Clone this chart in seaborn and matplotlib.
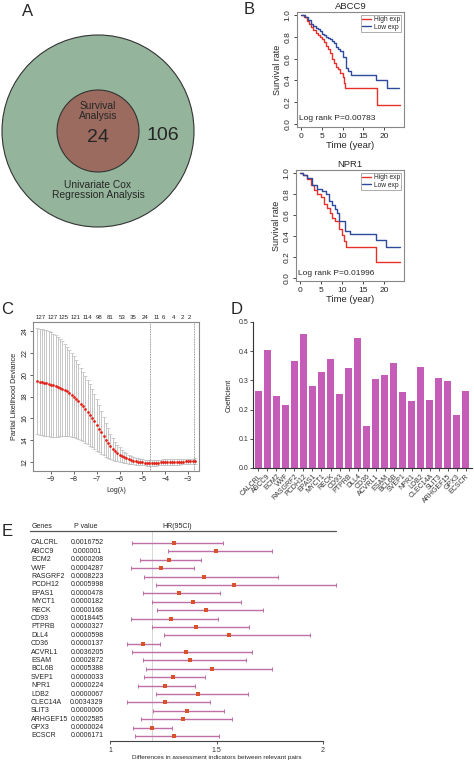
import numpy as np
import pandas as pd
import matplotlib
matplotlib.use('Agg')
import matplotlib.pyplot as plt
import matplotlib.transforms as mtransforms
from matplotlib.patches import Circle
from matplotlib.lines import Line2D
import seaborn as sns

sns.set_style('white')
plt.rcParams['font.family'] = ['Liberation Sans', 'DejaVu Sans']

# ---------------- data ----------------
# A: Venn counts
venn_inner = 24
venn_outer = 106
venn_inner_label = 'Survival\nAnalysis'
venn_outer_label = 'Univariate Cox\nRegression Analysis'

# B: Kaplan-Meier curves (time in years, survival rate)
abcc9_hi_t = [0, 0.8, 1.5, 2.0, 2.5, 3.0, 3.5, 4.0, 4.5, 5.0, 5.5, 6.0, 6.5, 7.0, 7.5, 8.0,
              8.5, 9.0, 9.5, 10.0, 10.3, 10.7, 18.2, 23.8]
abcc9_hi_s = [1.0, 0.98, 0.95, 0.92, 0.89, 0.86, 0.84, 0.82, 0.80, 0.78, 0.75, 0.72, 0.69, 0.65,
              0.60, 0.56, 0.52, 0.50, 0.47, 0.43, 0.38, 0.33, 0.17, 0.17]
abcc9_lo_t = [0, 1.0, 1.7, 2.5, 3.0, 3.5, 4.0, 4.5, 5.0, 5.5, 6.0, 6.5, 7.0, 7.5, 8.0, 8.5, 9.0,
              9.5, 10.0, 10.8, 11.3, 12.0, 18.1, 20.6, 23.6]
abcc9_lo_s = [1.0, 0.98, 0.955, 0.92, 0.90, 0.885, 0.87, 0.855, 0.83, 0.815, 0.80, 0.79, 0.78,
              0.765, 0.745, 0.71, 0.69, 0.67, 0.615, 0.515, 0.485, 0.445, 0.40, 0.325, 0.325]
npr1_hi_t = [0, 0.8, 1.7, 2.5, 3.3, 4.1, 4.9, 5.7, 6.5, 7.2, 7.6, 8.3, 9.4, 10.0, 10.4, 11.0,
             18.1, 23.8]
npr1_hi_s = [1.0, 0.98, 0.946, 0.887, 0.842, 0.798, 0.768, 0.708, 0.664, 0.619, 0.574, 0.545,
             0.47, 0.411, 0.351, 0.292, 0.149, 0.149]
npr1_lo_t = [0, 0.8, 1.7, 2.9, 4.1, 5.3, 6.1, 6.9, 7.6, 8.3, 8.8, 9.4, 10.8, 12.0, 18.1, 20.6,
             23.8]
npr1_lo_s = [1.0, 0.98, 0.955, 0.887, 0.848, 0.827, 0.798, 0.738, 0.693, 0.655, 0.619, 0.545,
             0.45, 0.42, 0.36, 0.29, 0.29]
abcc9_p = 'Log rank P=0.00783'
npr1_p = 'Log rank P=0.01996'

# C: LASSO cross-validation curve
log_lambda = [-9.6, -9.5, -9.4, -9.3, -9.2, -9.1, -9.0, -8.9, -8.8, -8.7, -8.6, -8.5, -8.4, -8.3,
              -8.2, -8.1, -8.0, -7.9, -7.8, -7.7, -7.6, -7.5, -7.4, -7.3, -7.2, -7.1, -7.0, -6.9,
              -6.8, -6.7, -6.6, -6.5, -6.4, -6.3, -6.2, -6.1, -6.0, -5.9, -5.8, -5.7, -5.6, -5.5,
              -5.4, -5.3, -5.2, -5.1, -5.0, -4.9, -4.8, -4.7, -4.6, -4.5, -4.4, -4.3, -4.2, -4.1,
              -4.0, -3.9, -3.8, -3.7, -3.6, -3.5, -3.4, -3.3, -3.2, -3.1, -3.0, -2.9, -2.8, -2.7]
cv_mean = [19.40, 19.35, 19.31, 19.26, 19.21, 19.15, 19.09, 19.03, 18.96, 18.89, 18.80, 18.70,
           18.59, 18.46, 18.32, 18.16, 17.98, 17.78, 17.57, 17.34, 17.10, 16.85, 16.58, 16.31,
           16.03, 15.73, 15.41, 15.07, 14.72, 14.37, 14.02, 13.72, 13.44, 13.20, 13.00, 12.83,
           12.69, 12.56, 12.45, 12.36, 12.28, 12.21, 12.15, 12.10, 12.06, 12.02, 11.99, 11.97,
           11.95, 11.94, 11.94, 11.95, 11.96, 11.97, 11.98, 11.99, 12.00, 12.01, 12.02, 12.03,
           12.04, 12.05, 12.05, 12.06, 12.06, 12.07, 12.07, 12.08, 12.08, 12.09]
cv_se = [4.85, 4.85, 4.84, 4.83, 4.82, 4.80, 4.78, 4.72, 4.64, 4.55, 4.45, 4.34, 4.22, 4.09,
         3.96, 3.82, 3.68, 3.55, 3.42, 3.30, 3.18, 3.06, 2.94, 2.82, 2.68, 2.52, 2.34, 2.14,
         1.94, 1.74, 1.55, 1.36, 1.18, 1.02, 0.88, 0.76, 0.66, 0.58, 0.51, 0.45, 0.40, 0.36,
         0.33, 0.31, 0.29, 0.28, 0.27, 0.26, 0.26, 0.26, 0.26, 0.26, 0.26, 0.26, 0.26, 0.26,
         0.26, 0.26, 0.26, 0.26, 0.26, 0.26, 0.26, 0.26, 0.26, 0.26, 0.26, 0.26, 0.26, 0.26]
nz_pos = [-9.44, -8.93, -8.43, -7.92, -7.41, -6.90, -6.40, -5.89, -5.39, -4.88, -4.39, -4.09,
          -3.65, -3.25, -2.95]
nz_labels = ['127', '127', '125', '121', '114', '98', '81', '53', '35', '24', '11', '6', '4',
             '2', '2']
lambda_min = -4.65
lambda_1se = -2.75

# D / E: genes
genes = ['CALCRL', 'ABCC9', 'ECM2', 'VWF', 'RASGRF2', 'PCDH12', 'EPAS1', 'MYCT1', 'RECK',
         'CD93', 'PTPRB', 'DLL4', 'CD36', 'ACVRL1', 'ESAM', 'BCL6B', 'SVEP1', 'NPR1', 'LDB2',
         'CLEC14A', 'SLIT3', 'ARHGEF15', 'GPX3', 'ECSCR']
coef = [0.262, 0.403, 0.245, 0.215, 0.367, 0.46, 0.281, 0.329, 0.373, 0.253, 0.341, 0.445,
        0.145, 0.306, 0.32, 0.361, 0.26, 0.231, 0.347, 0.232, 0.309, 0.297, 0.182, 0.264]
pvals = ['0.0016752', '0.000001', '0.0000208', '0.0004287', '0.0008223', '0.0005998',
         '0.0000478', '0.0000182', '0.0000168', '0.0018445', '0.0000327', '0.0000598',
         '0.0000137', '0.0036205', '0.0002872', '0.0005388', '0.0000033', '0.0000224',
         '0.0000067', '0.0034329', '0.0000006', '0.0002585', '0.0000024', '0.0006171']
hr = [1.299, 1.496, 1.277, 1.239, 1.443, 1.584, 1.324, 1.388, 1.452, 1.286, 1.404, 1.559,
      1.155, 1.355, 1.376, 1.477, 1.294, 1.258, 1.415, 1.260, 1.360, 1.341, 1.199, 1.299]
hr_lo = [1.105, 1.274, 1.141, 1.099, 1.161, 1.216, 1.153, 1.196, 1.222, 1.097, 1.196, 1.255,
         1.080, 1.105, 1.156, 1.167, 1.160, 1.130, 1.216, 1.080, 1.203, 1.147, 1.109, 1.116]
hr_hi = [1.532, 1.759, 1.429, 1.396, 1.787, 2.059, 1.518, 1.615, 1.720, 1.508, 1.651, 1.939,
         1.233, 1.668, 1.637, 1.759, 1.444, 1.401, 1.646, 1.469, 1.535, 1.574, 1.292, 1.513]
hr_ref = 1.197

# ---------------- figure ----------------
W, H = 474, 761
fig = plt.figure(figsize=(W / 100, H / 100), dpi=100)


def px_box(l, t, r, b):
    return [l / W, 1 - b / H, (r - l) / W, (b - t) / H]


def panel_letter(x, y, s):
    fig.text(x / W, 1 - y / H, s, fontsize=12, ha='center', va='center')


panel_letter(28, 12, 'A')
panel_letter(249, 10, 'B')
panel_letter(7, 310, 'C')
panel_letter(237, 310, 'D')
panel_letter(7, 531, 'E')

# ---- A: Venn ----
axA = fig.add_axes(px_box(0, 30, 200, 235))
axA.set_xlim(0, 200)
axA.set_ylim(235, 30)
axA.axis('off')
axA.add_patch(Circle((98, 131), 96, fc='#94B59B', ec='#333333', lw=0.8))
axA.add_patch(Circle((98, 131), 41, fc='#9B6B60', ec='#333333', lw=0.8))
axA.text(98, 111, venn_inner_label, ha='center', va='center', fontsize=7.4, linespacing=1.05)
axA.text(98, 137, str(venn_inner), ha='center', va='center', fontsize=14)
axA.text(163, 136, str(venn_outer), ha='center', va='center', fontsize=14)
axA.text(98, 190, venn_outer_label, ha='center', va='center', fontsize=7.4, linespacing=1.05)


# ---- B: survival ----
def km_panel(rect, title, hi_t, hi_s, lo_t, lo_s, ptxt):
    ax = fig.add_axes(rect)
    sns.lineplot(x=hi_t, y=hi_s, drawstyle='steps-post', color='#E8302A', lw=1.0, ax=ax,
                 label='High exp', estimator=None, sort=False)
    sns.lineplot(x=lo_t, y=lo_s, drawstyle='steps-post', color='#2E4B9B', lw=1.0, ax=ax,
                 label='Low exp', estimator=None, sort=False)
    ax.set_xlim(-0.96, 24.8)
    ax.set_ylim(-0.03, 1.03)
    ax.set_xticks([0, 5, 10, 15, 20])
    ax.set_yticks([0, 0.2, 0.4, 0.6, 0.8, 1.0])
    ax.set_yticklabels(['0.0', '0.2', '0.4', '0.6', '0.8', '1.0'], rotation=90, va='center')
    ax.tick_params(direction='out', length=2.5, width=0.6, labelsize=6, pad=1.5,
                   left=True, bottom=True)
    for sp in ax.spines.values():
        sp.set_color('#888888')
        sp.set_linewidth(0.8)
    ax.set_title(title, fontsize=6.8, pad=2)
    ax.set_xlabel('Time (year)', fontsize=6.8, labelpad=1)
    ax.set_ylabel('Survival rate', fontsize=6.5, labelpad=2)
    ax.text(0.02, 0.07, ptxt, transform=ax.transAxes, fontsize=6, ha='left', va='center')
    leg = ax.legend(loc='upper right', fontsize=4.8, frameon=True, fancybox=False,
                    handlelength=1.3, handletextpad=0.4, borderpad=0.2, labelspacing=0.1,
                    borderaxespad=0.4)
    leg.get_frame().set_edgecolor('#888888')
    leg.get_frame().set_linewidth(0.6)
    return ax


km_panel(px_box(297, 12, 404, 127), 'ABCC9', abcc9_hi_t, abcc9_hi_s, abcc9_lo_t, abcc9_lo_s,
         abcc9_p)
km_panel(px_box(296, 170, 404, 281), 'NPR1', npr1_hi_t, npr1_hi_s, npr1_lo_t, npr1_lo_s,
         npr1_p)

# ---- C: LASSO CV ----
axC = fig.add_axes(px_box(33, 322, 199, 471))
cv_mean_a = np.array(cv_mean)
cv_se_a = np.array(cv_se)
axC.errorbar(log_lambda, cv_mean_a, yerr=cv_se_a, fmt='none', ecolor='#BDBDBD', elinewidth=0.6,
             capsize=1.2, capthick=0.5)
sns.scatterplot(x=log_lambda, y=cv_mean, color='#E2231A', s=4, linewidth=0, ax=axC, zorder=3)
axC.axvline(lambda_min, color='#777777', lw=0.6, ls=(0, (1, 1)))
axC.axvline(lambda_1se, color='#777777', lw=0.6, ls=(0, (1, 1)))
axC.set_xlim(-9.79, -2.52)
axC.set_ylim(11.2, 24.8)
axC.set_xticks([-9, -8, -7, -6, -5, -4, -3])
axC.set_yticks([12, 14, 16, 18, 20, 22, 24])
axC.set_yticklabels(['12', '14', '16', '18', '20', '22', '24'], rotation=90, va='center')
axC.tick_params(direction='out', length=2, width=0.5, labelsize=5, pad=1.5, left=True,
                bottom=True)
for sp in axC.spines.values():
    sp.set_color('#888888')
    sp.set_linewidth(0.8)
axC.set_xlabel('Log(λ)', fontsize=5, labelpad=3)
axC.set_ylabel('Partial Likelihood Deviance', fontsize=5.2, labelpad=2)
trC = mtransforms.blended_transform_factory(axC.transData, axC.transAxes)
for xp, lab in zip(nz_pos, nz_labels):
    axC.text(xp, 1.012, lab, transform=trC, ha='center', va='bottom', fontsize=4.4)

# ---- D: coefficients ----
axD = fig.add_axes(px_box(253, 322, 472, 468))
dfD = pd.DataFrame({'gene': genes, 'coef': coef})
sns.barplot(data=dfD, x='gene', y='coef', color='#C55CB8', saturation=1, width=0.75,
            edgecolor='none', ax=axD)
axD.set_xlim(-0.6, 23.7)
axD.set_ylim(0, 0.5)
axD.set_yticks([0, 0.1, 0.2, 0.3, 0.4, 0.5])
axD.set_yticklabels(['0.0', '0.1', '0.2', '0.3', '0.4', '0.5'])
axD.set_xticks(range(len(genes)))
axD.set_xticklabels(genes, rotation=45, ha='right', rotation_mode='anchor')
axD.tick_params(direction='out', length=2, width=0.6, labelsize=5, pad=1.5, left=True,
                bottom=True, colors='#333333')
sns.despine(ax=axD)
for sp in ('left', 'bottom'):
    axD.spines[sp].set_color('#333333')
    axD.spines[sp].set_linewidth(0.8)
axD.set_xlabel('')
axD.set_ylabel('Coefficient', fontsize=5, labelpad=4)

# ---- E: forest ----
axE = fig.add_axes(px_box(110, 531, 323, 741))
rows = np.arange(len(genes))
hr_a = np.array(hr)
eb = axE.errorbar(hr_a, rows, xerr=[hr_a - np.array(hr_lo), np.array(hr_hi) - hr_a], fmt='none',
                  ecolor='#BF6FA5', elinewidth=1.0, capsize=1.6, capthick=0.7)
for art in eb.get_children():
    art.set_clip_on(False)
sns.scatterplot(x=hr, y=rows, color='#D9532A', marker='s', s=5, linewidth=0, ax=axE,
                zorder=3, clip_on=False)
axE.axvline(hr_ref, color='#C8C8C8', lw=0.5, zorder=0)
axE.set_xlim(1, 2)
axE.set_ylim(23.6, -1.43)
axE.set_yticks([])
axE.set_xticks([1, 1.5, 2])
axE.set_xticklabels(['1', '1.5', '2'])
axE.tick_params(axis='x', direction='out', length=2.5, width=0.6, labelsize=5, pad=1.5,
                bottom=True, colors='#333333')
for sp in ('left', 'top', 'right'):
    axE.spines[sp].set_visible(False)
axE.spines['bottom'].set_color('#444444')
axE.spines['bottom'].set_linewidth(0.8)
axE.set_xlabel('Differences in assessment indicators between relevant pairs', fontsize=4.6,
               labelpad=1)
trE = mtransforms.blended_transform_factory(fig.transFigure, axE.transData)
for i, (g, p) in enumerate(zip(genes, pvals)):
    axE.text(31 / W, i, g, transform=trE, ha='left', va='center', fontsize=5)
    axE.text(87 / W, i, p, transform=trE, ha='center', va='center', fontsize=5)
hy = 1 - 526 / H
fig.text(32 / W, hy, 'Genes', ha='left', va='center', fontsize=5)
fig.text(86 / W, hy, 'P value', ha='center', va='center', fontsize=5)
fig.text(177 / W, hy, 'HR(95CI)', ha='center', va='center', fontsize=5)
fig.add_artist(Line2D([30 / W, 336 / W], [1 - 531 / H] * 2, transform=fig.transFigure,
                      color='#555555', lw=0.9))

fig.savefig('out.png', dpi=100)
